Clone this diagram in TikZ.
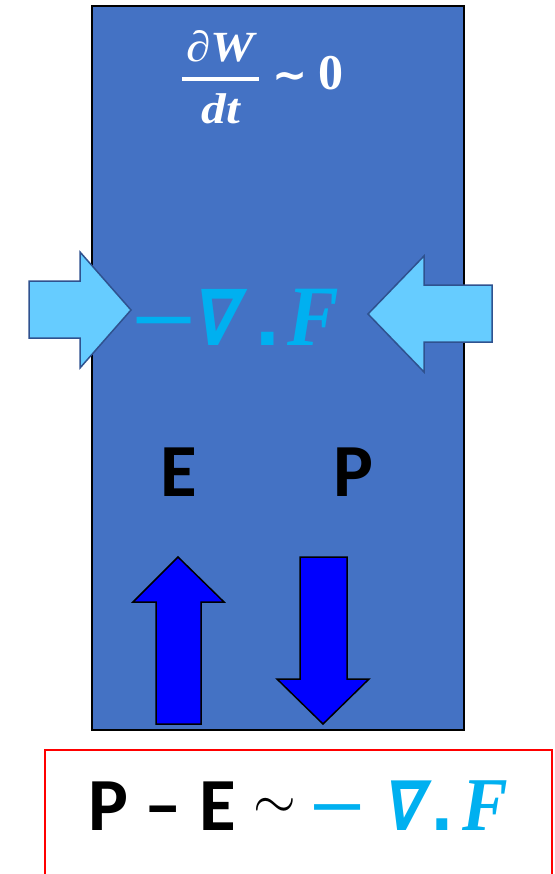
\RequirePackage{fix-cm}
\documentclass[tikz,border=0pt]{standalone}
\usepackage{amsmath}
\usepackage{fontspec}
\newfontfamily\calib{Carlito}
\newfontfamily\serifbi{Liberation Serif}
\newfontfamily\ffont{Liberation Serif}[FakeStretch=0.9]
\newfontfamily\djv{DejaVu Sans}
\newfontfamily\nablafont{DejaVu Sans Bold}[FakeSlant=0.2,FakeStretch=0.85]
\definecolor{boxblue}{HTML}{4472C4}
\definecolor{lightcyan}{HTML}{66CCFF}
\definecolor{arrowedge}{HTML}{2F528F}
\definecolor{textcyan}{HTML}{00B0F0}
\definecolor{pureblue}{HTML}{0000FF}
\tikzset{
  fatleft/.style={fill=lightcyan, draw=arrowedge, line width=1.5pt, line join=miter},
  fatvert/.style={fill=pureblue, draw=black, line width=1.5pt, line join=miter},
  txt/.style={inner sep=0pt, outer sep=0pt},
  cy/.style={txt, text=textcyan},
  labelfont/.style={txt, font=\fontsize{75}{80}\selectfont\calib\bfseries},
}
\newcommand{\bisize}[1]{\fontsize{#1}{#1}\selectfont\serifbi\bfseries\itshape}
\newcommand{\fsize}[1]{\fontsize{#1}{#1}\selectfont\ffont\bfseries\itshape}
\newcommand{\djsize}[1]{\fontsize{#1}{#1}\selectfont\djv\bfseries}
\newcommand{\dashsize}[1]{\fontsize{#1}{#1}\selectfont\calib}
\newcommand{\nabsize}[1]{\fontsize{#1}{#1}\selectfont\nablafont}
\begin{document}
\begin{tikzpicture}[x=1pt,y=-1pt]
\useasboundingbox (0,0) rectangle (554,874);
% main box
\draw[fill=boxblue, draw=black, line width=1.2pt] (92,6) rectangle (464,730);
% top formula
\node[txt, text=white, anchor=base west, font=\fontsize{42}{48}\selectfont] (dwdt) at (181,90)
  {$\genfrac{}{}{4pt}{0}{\makebox[77pt]{\scalebox{1.15}[1]{\bisize{43}∂W}}}{\makebox[77pt]{\scalebox{1.15}[1]{\bisize{43}dt}}}\mathrel{\hbox{\djsize{42}∼}}\hbox{\fontsize{50}{50}\selectfont\serifbi\bfseries 0}$};
% side arrows
\draw[fatleft] (29,281) -- (80,281) -- (80,252) -- (131,310) -- (80,368) -- (80,338) -- (29,338) -- cycle;
\draw[fatleft] (492,285) -- (424,285) -- (424,256) -- (368,314) -- (424,372) -- (424,342) -- (492,342) -- cycle;
% -nabla . F (middle)
\node[cy, anchor=base west] (mdiv) at (138,345)
  {\makebox[52pt][c]{\raisebox{-4pt}{\scalebox{1.45}[1]{\dashsize{104}–}}}{\nabsize{78}∇}\kern18pt{\djsize{70}.}\kern7pt{\fsize{86}F}};
% E and P
\node[labelfont, anchor=base] (E) at (179,496) {E};
\node[labelfont, anchor=base] (P) at (353,496) {P};
% vertical arrows
\draw[fatvert] (156,724) -- (156,602) -- (133,602) -- (178,557) -- (224,602) -- (201,602) -- (201,724) -- cycle;
\draw[fatvert] (300,557) -- (347,557) -- (347,679) -- (369,679) -- (323,724) -- (277,679) -- (300,679) -- cycle;
% bottom red box
\draw[red, line width=1.2pt] (45,880) -- (45,750) -- (552,750) -- (552,880);
\node[labelfont, anchor=base west] (PE) at (88,830) {P – E};
\node[txt, font=\fontsize{55}{60}\selectfont] (sim) at (275,808) {$\sim$};
\node[cy, anchor=base west] (bdiv) at (315,830)
  {\makebox[45pt][c]{\raisebox{-2pt}{\scalebox{1.43}[1]{\dashsize{90}–}}}\kern21pt{\nabsize{69}∇}\kern9pt{\djsize{62}.}\kern8pt{\fsize{76}F}};
\end{tikzpicture}
\end{document}
